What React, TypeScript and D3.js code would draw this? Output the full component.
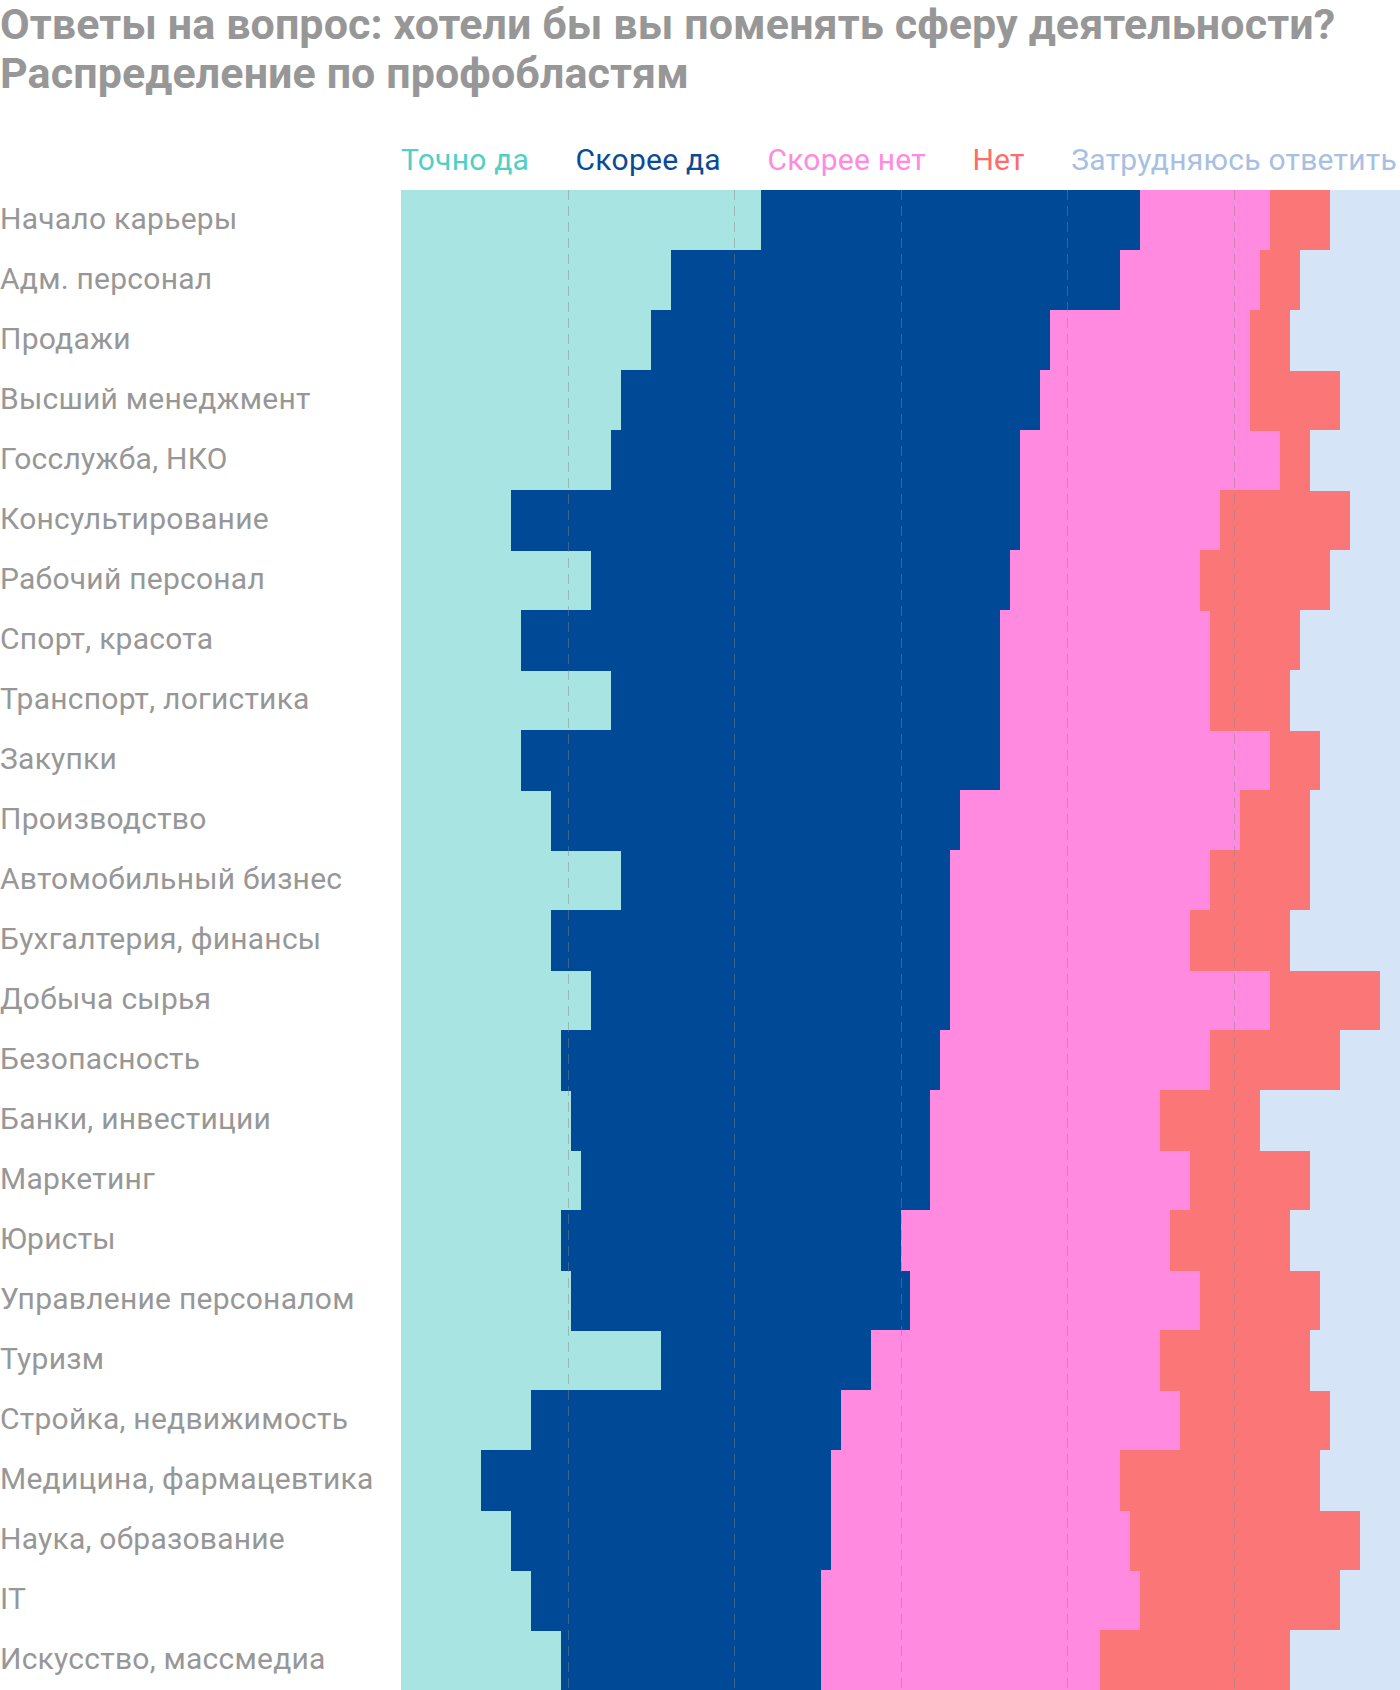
import React, { useMemo } from "react";
import * as d3 from "d3";

const categories = [
  "Начало карьеры",
  "Адм. персонал",
  "Продажи",
  "Высший менеджмент",
  "Госслужба, НКО",
  "Консультирование",
  "Рабочий персонал",
  "Спорт, красота",
  "Транспорт, логистика",
  "Закупки",
  "Производство",
  "Автомобильный бизнес",
  "Бухгалтерия, финансы",
  "Добыча сырья",
  "Безопасность",
  "Банки, инвестиции",
  "Маркетинг",
  "Юристы",
  "Управление персоналом",
  "Туризм",
  "Стройка, недвижимость",
  "Медицина, фармацевтика",
  "Наука, образование",
  "IT",
  "Искусство, массмедиа",
];

const seriesNames = ["Точно да", "Скорее да", "Скорее нет", "Нет", "Затрудняюсь ответить"];

const definitelyYes = [36, 27, 25, 22, 21, 11, 19, 12, 21, 12, 15, 22, 15, 19, 16, 17, 18, 16, 17, 26, 13, 8, 11, 13, 16];
const ratherYes = [38, 45, 40, 42, 41, 51, 42, 48, 39, 48, 41, 33, 40, 36, 38, 36, 35, 34, 34, 21, 31, 35, 32, 29, 26];
const ratherNo = [13, 14, 20, 21, 26, 20, 19, 21, 21, 27, 28, 26, 24, 32, 27, 23, 26, 27, 29, 29, 34, 29, 30, 32, 28];
const no = [6, 4, 4, 9, 3, 13, 13, 9, 8, 5, 7, 10, 10, 11, 13, 10, 12, 12, 12, 15, 15, 20, 23, 20, 19];
const hardToSay = [7, 10, 11, 6, 9, 5, 7, 10, 11, 8, 9, 9, 11, 2, 6, 14, 9, 11, 8, 9, 7, 8, 4, 6, 11];

const gridTicks = [1, 2, 3, 4, 5].map((i) => (100 / 6) * i);

const barColors = ["#a8e4e1", "#004996", "#ff8ae0", "#fb7777", "#d6e4f7"];
const legendColors = ["#4fcfc5", "#0a4a96", "#ff8ae0", "#ff6b6b", "#a7c0e2"];

const W = 1400;
const H = 1690;
const M = { left: 401, right: 0, top: 190, bottom: 0 };
const FONT = "Roboto, 'Noto Sans', sans-serif";
const TEXT_GREY = "#979797";
const LABEL_SIZE = 30;
const LABEL_LS = 0.25;

export default function App() {
  const keys = seriesNames;
  const table = useMemo(
    () =>
      categories.map((c, i) => ({
        cat: c,
        [keys[0]]: definitelyYes[i],
        [keys[1]]: ratherYes[i],
        [keys[2]]: ratherNo[i],
        [keys[3]]: no[i],
        [keys[4]]: hardToSay[i],
      })),
    []
  );

  const stacked = useMemo(() => d3.stack<any>().keys(keys)(table), [table]);

  const x = d3.scaleLinear().domain([0, 100]).range([M.left, W - M.right]);
  const y = d3
    .scaleBand<string>()
    .domain(categories)
    .range([M.top, H - M.bottom])
    .padding(0);

  const legendLayout = useMemo(() => {
    const ctx = document.createElement("canvas").getContext("2d")!;
    ctx.font = `400 ${LABEL_SIZE}px Roboto`;
    const widths = seriesNames.map(
      (s) => ctx.measureText(s).width + LABEL_LS * s.length
    );
    const total = widths.reduce((a, b) => a + b, 0);
    const end = W - 3;
    const gap = (end - M.left - total) / (seriesNames.length - 1);
    let cx = M.left;
    return widths.map((w) => {
      const pos = cx;
      cx += w + gap;
      return pos;
    });
  }, []);

  return (
    <svg
      width={W}
      height={H}
      style={{ position: "absolute", left: 0, top: 0, display: "block" }}
      fontFamily={FONT}
    >
      <rect x={0} y={0} width={W} height={H} fill="#fff" />
      <text x={0} y={39} fontSize={43} fontWeight={700} fill={TEXT_GREY} letterSpacing={0.1}>
        Ответы на вопрос: хотели бы вы поменять сферу деятельности?
      </text>
      <text x={0} y={88} fontSize={43} fontWeight={700} fill={TEXT_GREY} letterSpacing={0.1}>
        Распределение по профобластям
      </text>

      {seriesNames.map((s, i) => (
        <text
          key={s}
          x={legendLayout[i]}
          y={170}
          fontSize={LABEL_SIZE}
          letterSpacing={LABEL_LS}
          fill={legendColors[i]}
        >
          {s}
        </text>
      ))}

      {stacked.map((layer, li) => (
        <g key={layer.key} fill={barColors[li]}>
          {layer.map((d, j) => (
            <rect
              key={j}
              x={x(d[0])}
              y={y(categories[j])!}
              width={Math.max(0, x(d[1]) - x(d[0]))}
              height={y.bandwidth() + 0.5}
              shapeRendering="crispEdges"
            />
          ))}
        </g>
      ))}

      {gridTicks.map((t) => (
        <line
          key={t}
          x1={Math.round(x(t)) + 0.5}
          x2={Math.round(x(t)) + 0.5}
          y1={M.top}
          y2={H}
          stroke="#828282"
          strokeOpacity={0.45}
          strokeWidth={1}
          strokeDasharray="10,6"
        />
      ))}

      {categories.map((c) => (
        <text
          key={c}
          x={0}
          y={y(c)! + 39}
          fontSize={LABEL_SIZE}
          letterSpacing={LABEL_LS}
          fill={TEXT_GREY}
        >
          {c}
        </text>
      ))}
    </svg>
  );
}
